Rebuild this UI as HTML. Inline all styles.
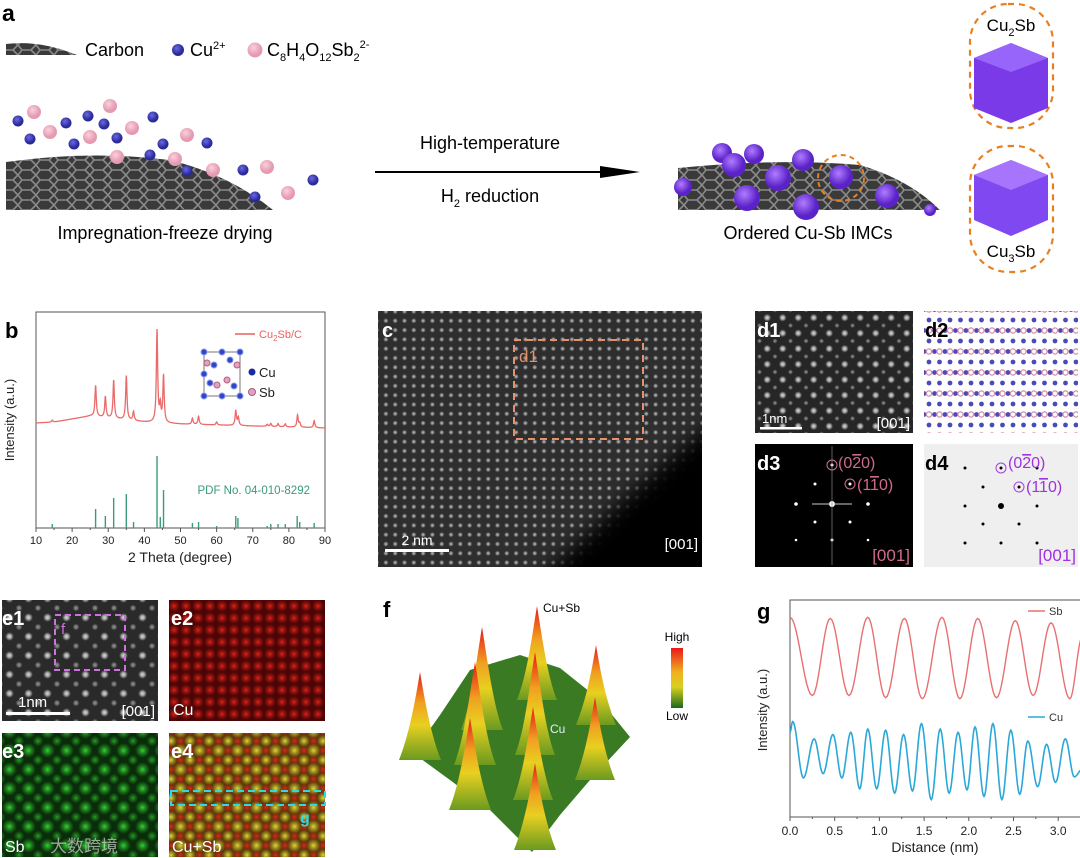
<!DOCTYPE html>
<html><head><meta charset="utf-8"><style>
html,body{margin:0;padding:0;background:#fff;}
svg{display:block;font-family:"Liberation Sans","Noto Sans CJK SC",sans-serif;}
</style></head><body>
<svg id="fig" width="1080" height="858" viewBox="0 0 1080 858" xmlns="http://www.w3.org/2000/svg">
<defs>
  <radialGradient id="gDotW"><stop offset="0" stop-color="#f4f4f4"/><stop offset="0.5" stop-color="#bbb"/><stop offset="1" stop-color="#bbb" stop-opacity="0"/></radialGradient>
  <radialGradient id="gDotC"><stop offset="0" stop-color="#bdbdbd"/><stop offset="0.5" stop-color="#858585"/><stop offset="1" stop-color="#555" stop-opacity="0"/></radialGradient>
  <radialGradient id="gDotE"><stop offset="0" stop-color="#dedede"/><stop offset="0.5" stop-color="#999"/><stop offset="1" stop-color="#777" stop-opacity="0"/></radialGradient>
  <radialGradient id="gDotR"><stop offset="0" stop-color="#e82a1a" stop-opacity="0.9"/><stop offset="1" stop-color="#c01010" stop-opacity="0"/></radialGradient>
  <radialGradient id="gDotG"><stop offset="0" stop-color="#38d038"/><stop offset="1" stop-color="#20a020" stop-opacity="0"/></radialGradient>
  <radialGradient id="gDotY"><stop offset="0" stop-color="#e0d838"/><stop offset="1" stop-color="#c0b820" stop-opacity="0"/></radialGradient>
  <radialGradient id="gSphere" cx="0.4" cy="0.35"><stop offset="0" stop-color="#b07cff"/><stop offset="1" stop-color="#5a22c8"/></radialGradient>
  <radialGradient id="gBlue" cx="0.4" cy="0.35"><stop offset="0" stop-color="#6a6ae0"/><stop offset="1" stop-color="#2a2a9a"/></radialGradient>
  <radialGradient id="gPink" cx="0.4" cy="0.35"><stop offset="0" stop-color="#fbd0dc"/><stop offset="1" stop-color="#e49ab0"/></radialGradient>
  <linearGradient id="gPeak" x1="0" y1="0" x2="0" y2="1"><stop offset="0" stop-color="#e81818"/><stop offset="0.35" stop-color="#f0a020"/><stop offset="0.6" stop-color="#e8d020"/><stop offset="1" stop-color="#6a9a20"/></linearGradient>
  <linearGradient id="gBar" x1="0" y1="0" x2="0" y2="1"><stop offset="0" stop-color="#e81818"/><stop offset="0.4" stop-color="#f0b020"/><stop offset="0.65" stop-color="#d8d020"/><stop offset="1" stop-color="#1a6a1a"/></linearGradient>
  <pattern id="pC" width="9.3" height="9.3" patternUnits="userSpaceOnUse"><rect width="9.3" height="9.3" fill="#2e2e2e"/><circle cx="4.6" cy="4.6" r="2.8" fill="url(#gDotC)"/></pattern>
  <pattern id="pD1" width="15.5" height="15.5" patternUnits="userSpaceOnUse"><rect width="15.5" height="15.5" fill="#262626"/><circle cx="7.7" cy="7.7" r="4" fill="url(#gDotE)"/><circle cx="0" cy="0" r="2.6" fill="url(#gDotE)" opacity="0.6"/><circle cx="15.5" cy="0" r="2.6" fill="url(#gDotE)" opacity="0.6"/><circle cx="0" cy="15.5" r="2.6" fill="url(#gDotE)" opacity="0.6"/><circle cx="15.5" cy="15.5" r="2.6" fill="url(#gDotE)" opacity="0.6"/></pattern>
  <pattern id="pD2" width="10.5" height="21" patternUnits="userSpaceOnUse"><rect width="10.5" height="21" fill="#fff"/><circle cx="5" cy="5" r="2.4" fill="#4a4ab8"/><circle cx="0" cy="15.5" r="2.4" fill="#4a4ab8"/><circle cx="10.5" cy="15.5" r="2.4" fill="#4a4ab8"/><circle cx="5" cy="15.5" r="2.6" fill="none" stroke="#d88aa8" stroke-width="1.3"/></pattern>
  <pattern id="pE1" width="19" height="19" patternUnits="userSpaceOnUse"><rect width="19" height="19" fill="#2a2a2a"/><circle cx="9.5" cy="9.5" r="4.5" fill="url(#gDotE)"/><circle cx="0" cy="0" r="3.5" fill="url(#gDotE)" opacity="0.6"/><circle cx="19" cy="0" r="3.5" fill="url(#gDotE)" opacity="0.6"/><circle cx="0" cy="19" r="3.5" fill="url(#gDotE)" opacity="0.6"/><circle cx="19" cy="19" r="3.5" fill="url(#gDotE)" opacity="0.6"/></pattern>
  <pattern id="pE2" width="12" height="12" patternUnits="userSpaceOnUse"><rect width="12" height="12" fill="#4a0606"/><circle cx="6" cy="6" r="6" fill="url(#gDotR)"/></pattern>
  <pattern id="pE3" width="19" height="19" patternUnits="userSpaceOnUse"><rect width="19" height="19" fill="#0a2c0a"/><circle cx="9.5" cy="9.5" r="7.5" fill="url(#gDotG)"/><circle cx="0" cy="0" r="5.5" fill="url(#gDotG)" opacity="0.7"/><circle cx="19" cy="0" r="5.5" fill="url(#gDotG)" opacity="0.7"/><circle cx="0" cy="19" r="5.5" fill="url(#gDotG)" opacity="0.7"/><circle cx="19" cy="19" r="5.5" fill="url(#gDotG)" opacity="0.7"/></pattern>
  <pattern id="pE4" width="19" height="19" patternUnits="userSpaceOnUse"><rect width="19" height="19" fill="#5a3a0c"/><circle cx="9.5" cy="9.5" r="7" fill="url(#gDotY)"/><circle cx="0" cy="9.5" r="5" fill="url(#gDotR)"/><circle cx="19" cy="9.5" r="5" fill="url(#gDotR)"/><circle cx="9.5" cy="0" r="5" fill="url(#gDotR)"/><circle cx="9.5" cy="19" r="5" fill="url(#gDotR)"/><circle cx="0" cy="0" r="6" fill="url(#gDotY)"/><circle cx="19" cy="0" r="6" fill="url(#gDotY)"/><circle cx="0" cy="19" r="6" fill="url(#gDotY)"/><circle cx="19" cy="19" r="6" fill="url(#gDotY)"/></pattern>
  <pattern id="pHex" width="18" height="10" patternUnits="userSpaceOnUse"><rect width="18" height="10" fill="#3a3a3a"/><path d="M0 5 L4 0 H13 L18 5 L13 10 H4 Z" fill="none" stroke="#8a8a8a" stroke-width="1.6"/></pattern>
  <filter id="blur8"><feGaussianBlur stdDeviation="10"/></filter>
  <clipPath id="clipC"><rect x="378" y="311" width="324" height="256"/></clipPath>
</defs>

<!-- ================= Panel a ================= -->
<g>
  <text x="2" y="21" font-size="23" font-weight="bold">a</text>
  <g>
    <path d="M6 44 Q40 40 77 55 H6 Z" fill="url(#pHex)"/>
    <text x="85" y="56" font-size="18">Carbon</text>
    <circle cx="178" cy="50" r="6" fill="url(#gBlue)"/>
    <text x="190" y="56" font-size="18">Cu<tspan dy="-7" font-size="11">2+</tspan></text>
    <circle cx="255" cy="50" r="7.5" fill="url(#gPink)"/>
    <text x="267" y="56" font-size="18">C<tspan dy="5" font-size="11">8</tspan><tspan dy="-5">H</tspan><tspan dy="5" font-size="11">4</tspan><tspan dy="-5">O</tspan><tspan dy="5" font-size="11">12</tspan><tspan dy="-5">Sb</tspan><tspan dy="5" font-size="11">2</tspan><tspan dy="-13" font-size="11">2-</tspan></text>
  </g>
  <path d="M6 162 Q90 150 170 160 Q230 175 273 210 H6 Z" fill="url(#pHex)"/>
  <g id="ions"></g>
  <text x="165" y="239" font-size="18" text-anchor="middle">Impregnation-freeze drying</text>
  <text x="490" y="149" font-size="18" text-anchor="middle">High-temperature</text>
  <line x1="375" y1="172" x2="610" y2="172" stroke="#000" stroke-width="2"/>
  <path d="M600 166 L640 172 L600 178 Z" fill="#000"/>
  <text x="490" y="202" font-size="18" text-anchor="middle">H<tspan dy="5" font-size="11">2</tspan><tspan dy="-5"> reduction</tspan></text>
  <path d="M678 168 Q780 158 860 165 Q910 180 940 210 H678 Z" fill="url(#pHex)"/>
  <g id="spheres"></g>
  <circle cx="841" cy="178" r="23" fill="none" stroke="#e88020" stroke-width="2" stroke-dasharray="5 4"/>
  <text x="808" y="239" font-size="18" text-anchor="middle">Ordered Cu-Sb IMCs</text>
  <rect x="970" y="4" width="83" height="124" rx="38" fill="none" stroke="#e88020" stroke-width="2.2" stroke-dasharray="6 5"/>
  <text x="1011" y="31" font-size="17" text-anchor="middle">Cu<tspan dy="5" font-size="11">2</tspan><tspan dy="-5">Sb</tspan></text>
  <path d="M1011 43 L1048 58 L1048 108 L1011 123 L974 108 L974 58 Z" fill="#7a3ae8"/>
  <path d="M1011 43 L1048 58 L1011 72 L974 58 Z" fill="#a070ff" opacity="0.8"/>
  <rect x="970" y="146" width="83" height="126" rx="38" fill="none" stroke="#e88020" stroke-width="2.2" stroke-dasharray="6 5"/>
  <path d="M1011 160 L1048 175 L1048 220 L1011 236 L974 220 L974 175 Z" fill="#8048f0"/>
  <path d="M1011 160 L1048 175 L1011 190 L974 175 Z" fill="#b080ff" opacity="0.8"/>
  <text x="1011" y="257" font-size="17" text-anchor="middle">Cu<tspan dy="5" font-size="11">3</tspan><tspan dy="-5">Sb</tspan></text>
</g>

<!-- ================= Panel b ================= -->
<g id="panelB">
  <rect x="36" y="312" width="289" height="216" fill="none" stroke="#555" stroke-width="1"/>
  <text x="5" y="338" font-size="22" font-weight="bold">b</text>
  <text transform="translate(14,420) rotate(-90)" font-size="13" text-anchor="middle" fill="#222">Intensity (a.u.)</text>
  <text x="180" y="562" font-size="14" text-anchor="middle" fill="#222">2 Theta (degree)</text>
  <line x1="235" y1="334" x2="255" y2="334" stroke="#e86060" stroke-width="1.5"/>
  <text x="259" y="338" font-size="11" fill="#e86060">Cu<tspan dy="3" font-size="8">2</tspan><tspan dy="-3">Sb/C</tspan></text>
  <g>
    <rect x="204" y="352" width="36" height="44" fill="none" stroke="#777"/>
    <g fill="#3344cc" stroke="#8899ee" stroke-width="1"><circle cx="204" cy="352" r="3"/><circle cx="240" cy="352" r="3"/><circle cx="222" cy="352" r="3"/><circle cx="204" cy="396" r="3"/><circle cx="240" cy="396" r="3"/><circle cx="222" cy="396" r="3"/><circle cx="214" cy="365" r="3"/><circle cx="230" cy="360" r="3"/><circle cx="210" cy="383" r="3"/><circle cx="234" cy="386" r="3"/><circle cx="204" cy="374" r="3"/></g>
    <g fill="#e8a0c0" stroke="#b06080" stroke-width="1"><circle cx="207" cy="363" r="3"/><circle cx="237" cy="365" r="3"/><circle cx="217" cy="385" r="3"/><circle cx="227" cy="380" r="3"/></g>
  </g>
  <circle cx="252" cy="372" r="3.5" fill="#1a2aa0"/>
  <text x="259" y="377" font-size="13" fill="#222">Cu</text>
  <circle cx="252" cy="392" r="3.5" fill="#e8a0c0" stroke="#a06080"/>
  <text x="259" y="397" font-size="13" fill="#222">Sb</text>
  <text x="310" y="494" font-size="11.5" fill="#3a9a7a" text-anchor="end">PDF No. 04-010-8292</text>
  <g id="bTicks"></g>
</g>

<!-- ================= Panel c ================= -->
<g>
  <rect x="378" y="311" width="324" height="256" fill="url(#pC)"/>
  <g clip-path="url(#clipC)"><path d="M520 600 Q600 520 680 450 Q720 415 760 400 L760 600 Z" fill="#000" filter="url(#blur8)"/></g>
  <text x="382" y="337" font-size="20" font-weight="bold" fill="#fff">c</text>
  <rect x="514" y="340" width="129" height="99" fill="none" stroke="#e8906a" stroke-width="2" stroke-dasharray="7 5"/>
  <text x="519" y="362" font-size="17" fill="#e8906a">d1</text>
  <rect x="385" y="549" width="64" height="3" fill="#fff"/>
  <text x="417" y="545" font-size="14" fill="#fff" text-anchor="middle">2 nm</text>
  <text x="698" y="549" font-size="15" fill="#fff" text-anchor="end">[001]</text>
</g>

<!-- ================= Panel d ================= -->
<g>
  <rect x="755" y="311" width="158" height="122" fill="url(#pD1)"/>
  <text x="757" y="337" font-size="20" font-weight="bold" fill="#fff">d1</text>
  <rect x="760" y="427" width="42" height="2.5" fill="#fff"/>
  <text x="762" y="423" font-size="13" fill="#fff">1nm</text>
  <text x="910" y="428" font-size="15" fill="#fff" text-anchor="end">[001]</text>
  <rect x="924" y="311" width="154" height="122" fill="url(#pD2)"/>
  <text x="925" y="337" font-size="20" font-weight="bold" fill="#000">d2</text>
  <rect x="755" y="444" width="158" height="123" fill="#000"/>
  <g id="d3spots"></g>
  <text x="757" y="470" font-size="20" font-weight="bold" fill="#fff">d3</text>
  <circle cx="832" cy="465" r="5" fill="none" stroke="#d07090" stroke-width="1"/>
  <circle cx="850" cy="484" r="5" fill="none" stroke="#d07090" stroke-width="1"/>
  <text x="838" y="468" font-size="16" fill="#d06a8a">(0<tspan text-decoration="overline">2</tspan>0)</text>
  <text x="857" y="490" font-size="16" fill="#d06a8a">(1<tspan text-decoration="overline">1</tspan>0)</text>
  <text x="910" y="561" font-size="17" fill="#d06a8a" text-anchor="end">[001]</text>
  <rect x="924" y="444" width="154" height="123" fill="#efefef"/>
  <g id="d4spots"></g>
  <text x="925" y="470" font-size="20" font-weight="bold" fill="#000">d4</text>
  <circle cx="1001" cy="468" r="5" fill="none" stroke="#a040e0" stroke-width="1"/>
  <circle cx="1019" cy="487" r="5" fill="none" stroke="#a040e0" stroke-width="1"/>
  <text x="1008" y="468" font-size="16" fill="#a030e0">(0<tspan text-decoration="overline">2</tspan>0)</text>
  <text x="1026" y="492" font-size="16" fill="#a030e0">(1<tspan text-decoration="overline">1</tspan>0)</text>
  <text x="1076" y="561" font-size="17" fill="#a030e0" text-anchor="end">[001]</text>
</g>

<!-- ================= Panel e ================= -->
<g>
  <rect x="2" y="600" width="156" height="121" fill="url(#pE1)"/>
  <text x="2" y="625" font-size="20" font-weight="bold" fill="#fff">e1</text>
  <rect x="55" y="615" width="70" height="55" fill="none" stroke="#d070e0" stroke-width="2" stroke-dasharray="6 4"/>
  <text x="61" y="634" font-size="15" fill="#d070e0">f</text>
  <rect x="6" y="712" width="64" height="3" fill="#fff"/>
  <text x="18" y="707" font-size="15" fill="#fff">1nm</text>
  <text x="155" y="716" font-size="15" fill="#fff" text-anchor="end">[001]</text>
  <rect x="169" y="600" width="156" height="121" fill="url(#pE2)"/>
  <text x="171" y="625" font-size="20" font-weight="bold" fill="#fff">e2</text>
  <text x="173" y="715" font-size="16" fill="#fff">Cu</text>
  <rect x="2" y="733" width="156" height="124" fill="url(#pE3)"/>
  <text x="2" y="758" font-size="20" font-weight="bold" fill="#fff">e3</text>
  <text x="5" y="852" font-size="16" fill="#fff">Sb</text>
  <text x="50" y="852" font-size="17" fill="#cccccc" opacity="0.75">大数跨境</text>
  <rect x="169" y="733" width="156" height="124" fill="url(#pE4)"/>
  <text x="171" y="758" font-size="20" font-weight="bold" fill="#fff">e4</text>
  <rect x="171" y="791" width="154" height="14" fill="none" stroke="#30d8e0" stroke-width="2" stroke-dasharray="7 4"/>
  <text x="300" y="823" font-size="16" font-weight="bold" fill="#30d8e0">g</text>
  <text x="172" y="852" font-size="16" fill="#fff">Cu+Sb</text>
</g>

<!-- ================= Panel f ================= -->
<g>
  <text x="383" y="617" font-size="22" font-weight="bold">f</text>
  <path d="M413 753 L440 715 L470 670 L520 655 L560 668 L600 700 L630 737 L590 780 L560 815 L532 852 L490 810 L450 780 Z" fill="#3a7a22"/>
  <g id="fPeaks"></g>
  <text x="543" y="612" font-size="12">Cu+Sb</text>
  <text x="550" y="733" font-size="12" fill="#e0f0ff">Cu</text>
  <rect x="671" y="648" width="12" height="60" fill="url(#gBar)"/>
  <text x="677" y="641" font-size="12" text-anchor="middle">High</text>
  <text x="677" y="720" font-size="12" text-anchor="middle">Low</text>
</g>

<!-- ================= Panel g ================= -->
<g id="panelG">
  <rect x="790" y="600" width="295" height="217" fill="none" stroke="#555" stroke-width="1"/>
  <text x="757" y="619" font-size="22" font-weight="bold">g</text>
  <text transform="translate(767,710) rotate(-90)" font-size="13" text-anchor="middle" fill="#222">Intensity (a.u.)</text>
  <text x="935" y="852" font-size="14" text-anchor="middle" fill="#222">Distance (nm)</text>
  <line x1="1028" y1="611" x2="1045" y2="611" stroke="#e87070" stroke-width="1.5"/>
  <text x="1049" y="615" font-size="11" fill="#333">Sb</text>
  <line x1="1028" y1="717" x2="1045" y2="717" stroke="#2aa8d8" stroke-width="1.5"/>
  <text x="1049" y="721" font-size="11" fill="#333">Cu</text>
  <g id="gTicks"></g>
</g>
</svg>

<script>
// ---------- Panel b data ----------
const xrdBgTheta = [10, 15, 20, 25, 30, 35, 40, 50, 60, 70, 90];
const xrdBgVal   = [3, 4, 7, 10, 8, 6, 4, 2, 1, 0, -2];
const xrdPeakTheta = [14.5, 26.5, 29.2, 31.5, 35.0, 37.0, 43.5, 44.4, 45.3, 53.3, 55.0, 60.0, 65.3, 66.0, 74.0, 75.0, 77.0, 79.0, 82.4, 83.0, 87.0];
const xrdPeakVal   = [2, 31, 21, 38, 44, 9, 92, 16, 47, 6, 8, 3, 15, 8, 2, 3, 3, 3, 12, 4, 7];
const pdfTheta = [14.5, 26.5, 29.2, 31.5, 35.0, 37.0, 43.5, 44.4, 45.3, 53.3, 55.0, 60.0, 65.3, 65.9, 74.0, 75.0, 77.0, 79.0, 82.3, 83.0, 87.0];
const pdfVal   = [4, 19, 12, 30, 34, 6, 72, 11, 38, 5, 6, 2, 12, 10, 2, 4, 4, 4, 12, 6, 5];
const bTickLabels = [10, 20, 30, 40, 50, 60, 70, 80, 90];

// ---------- Panel g data ----------
const sbX = [0.00, 0.25, 0.45, 0.66, 0.87, 1.07, 1.28, 1.48, 1.70, 1.90, 2.10, 2.31, 2.52, 2.72, 2.92, 3.13, 3.27];
const sbY = [92, 56, 91.5, 56, 92, 55, 91.5, 54.5, 92, 54.5, 91.5, 55, 90.5, 56, 89.5, 54.5, 83];
const cuX = [0.00, 0.03, 0.15, 0.27, 0.37, 0.48, 0.58, 0.68, 0.78, 0.87, 0.97, 1.07, 1.17, 1.27, 1.37, 1.47, 1.58, 1.68, 1.78, 1.88, 1.98, 2.07, 2.17, 2.27, 2.37, 2.47, 2.57, 2.66, 2.77, 2.87, 2.97, 3.08, 3.18, 3.27];
const cuY = [39, 44, 18, 36, 20, 38, 18, 39, 13, 40.5, 13, 40, 11, 38, 12, 43, 8, 40.5, 11, 39, 12.5, 41.5, 9.5, 43, 8, 40, 10.5, 35, 14, 33.5, 16, 36, 18.5, 22];
const gTickLabels = [0.0, 0.5, 1.0, 1.5, 2.0, 2.5, 3.0];

const NS = 'http://www.w3.org/2000/svg';
function mk(tag, attrs, parent) {
  const el = document.createElementNS(NS, tag);
  for (const k in attrs) el.setAttribute(k, attrs[k]);
  parent.appendChild(el);
  return el;
}

// axis functions panel b
const bX = t => 36 + (t - 10) / 80 * 289;
const bRedY = v => 426 - v;
const bPdfY = v => 528 - v;
function bg(t) {
  for (let i = 0; i < xrdBgTheta.length - 1; i++) {
    if (t >= xrdBgTheta[i] && t <= xrdBgTheta[i + 1]) {
      const f = (t - xrdBgTheta[i]) / (xrdBgTheta[i + 1] - xrdBgTheta[i]);
      return xrdBgVal[i] + f * (xrdBgVal[i + 1] - xrdBgVal[i]);
    }
  }
  return 0;
}
const pB = document.getElementById('panelB');
let d = '';
for (let t = 10; t <= 90.001; t += 0.05) {
  let v = bg(t);
  xrdPeakTheta.forEach((p, i) => { const w = 0.22; v += xrdPeakVal[i] * w * w / ((t - p) * (t - p) + w * w); });
  d += (d ? 'L' : 'M') + bX(t).toFixed(2) + ' ' + bRedY(v).toFixed(2);
}
const redLine = mk('path', { d: d, fill: 'none', stroke: '#ea6a6a', 'stroke-width': 1.3 }, pB);


pdfTheta.forEach((t, i) => {
  const s = mk('line', { x1: bX(t), x2: bX(t), y1: bPdfY(0), y2: bPdfY(pdfVal[i]), stroke: '#3a9a7a', 'stroke-width': 1.4 }, pB);
  
  
});
const bT = document.getElementById('bTicks');
bTickLabels.forEach(v => {
  mk('line', { x1: bX(v), x2: bX(v), y1: 528, y2: 532, stroke: '#555' }, bT);
  if (v < 90) mk('line', { x1: bX(v + 5), x2: bX(v + 5), y1: 528, y2: 530, stroke: '#555' }, bT);
  const tx = mk('text', { x: bX(v), y: 544, 'font-size': 11, 'text-anchor': 'middle', fill: '#222' }, bT);
  tx.textContent = v;
  
  
});

// axis functions panel g
const gX = v => 790 + v / 0.5 * 44.7;
const gY = v => 817 - v * 2.17;
function curve(xs, ys) {
  let p = 'M' + gX(xs[0]).toFixed(2) + ' ' + gY(ys[0]).toFixed(2);
  for (let i = 0; i < xs.length - 1; i++) {
    for (let k = 1; k <= 12; k++) {
      const f = k / 12, e = (1 - Math.cos(Math.PI * f)) / 2;
      const x = xs[i] + f * (xs[i + 1] - xs[i]);
      const y = ys[i] + e * (ys[i + 1] - ys[i]);
      p += 'L' + gX(x).toFixed(2) + ' ' + gY(y).toFixed(2);
    }
  }
  return p;
}
const pG = document.getElementById('panelG');
const sbLine = mk('path', { d: curve(sbX, sbY), fill: 'none', stroke: '#e87070', 'stroke-width': 1.4 }, pG);


const cuLine = mk('path', { d: curve(cuX, cuY), fill: 'none', stroke: '#2aa8d8', 'stroke-width': 1.6 }, pG);


const gT = document.getElementById('gTicks');
gTickLabels.forEach(v => {
  mk('line', { x1: gX(v), x2: gX(v), y1: 817, y2: 821, stroke: '#555' }, gT);
  mk('line', { x1: gX(v + 0.25), x2: gX(v + 0.25), y1: 817, y2: 819, stroke: '#555' }, gT);
  const tx = mk('text', { x: gX(v), y: 835, 'font-size': 12, 'text-anchor': 'middle', fill: '#222' }, gT);
  tx.textContent = v.toFixed(1);
  
  
});

// ---------- decorative: ions in panel a ----------
const ionsG = document.getElementById('ions');
const blueIons = [[18,121],[66,123],[88,116],[104,124],[117,138],[153,117],[30,139],[74,144],[163,144],[207,143],[150,155],[187,171],[243,170],[255,197],[313,180]];
const pinkIons = [[34,112],[110,106],[50,132],[90,137],[132,128],[187,135],[117,157],[175,159],[213,170],[267,167],[288,193]];
blueIons.forEach(p => { const c = mk('circle', { cx: p[0], cy: p[1], r: 5.5, fill: 'url(#gBlue)' }, ionsG);   });
pinkIons.forEach(p => { const c = mk('circle', { cx: p[0], cy: p[1], r: 7, fill: 'url(#gPink)' }, ionsG);   });
const spG = document.getElementById('spheres');
const sph = [[722,153,10],[734,165,12],[754,154,10],[803,160,11],[778,178,13],[841,177,12],[747,198,13],[806,207,13],[887,196,12],[683,187,9],[930,210,6]];
sph.forEach(p => { const c = mk('circle', { cx: p[0], cy: p[1], r: p[2], fill: 'url(#gSphere)' }, spG);   });

// ---------- decorative: diffraction spots ----------
const d3 = document.getElementById('d3spots');
[[832,465,1.5],[850,484,1.5],[815,484,1.5],[796,504,1.8],[832,504,3],[868,504,1.8],[815,522,1.5],[850,522,1.5],[796,540,1.3],[832,540,1.5],[868,540,1.3]].forEach(p => {
  const c = mk('circle', { cx: p[0], cy: p[1], r: p[2], fill: '#fff' }, d3);
   
});
mk('line', { x1: 832, x2: 832, y1: 446, y2: 565, stroke: '#888', 'stroke-width': 0.7 }, d3);
mk('line', { x1: 812, x2: 852, y1: 504, y2: 504, stroke: '#ccc', 'stroke-width': 1 }, d3);
const d4 = document.getElementById('d4spots');
[[965,468,1.5],[1001,468,1.5],[1037,468,1.5],[983,487,1.5],[1019,487,1.5],[965,506,1.5],[1001,506,3],[1037,506,1.5],[983,524,1.5],[1019,524,1.5],[965,543,1.5],[1001,543,1.5],[1037,543,1.5]].forEach(p => {
  const c = mk('circle', { cx: p[0], cy: p[1], r: p[2], fill: '#000' }, d4);
   
});

// ---------- decorative: 3D intensity peaks (panel f) ----------
const fG = document.getElementById('fPeaks');
const fPk = [[482,627,730,13],[537,606,700,12],[596,645,725,12],[420,672,760,13],[475,662,765,13],[535,652,755,12],[470,718,810,13],[533,707,800,12],[595,697,780,12],[535,763,850,13]];
fPk.forEach(p => {
  const [x, top, base, w] = p;
  const dd = `M${x - w - 8} ${base} C${x - w + 2} ${base - 25} ${x - 5} ${top + 30} ${x} ${top} C${x + 5} ${top + 30} ${x + w - 2} ${base - 25} ${x + w + 8} ${base} Z`;
  const el = mk('path', { d: dd, fill: 'url(#gPeak)' }, fG);
  
  
});
</script>
</body></html>
